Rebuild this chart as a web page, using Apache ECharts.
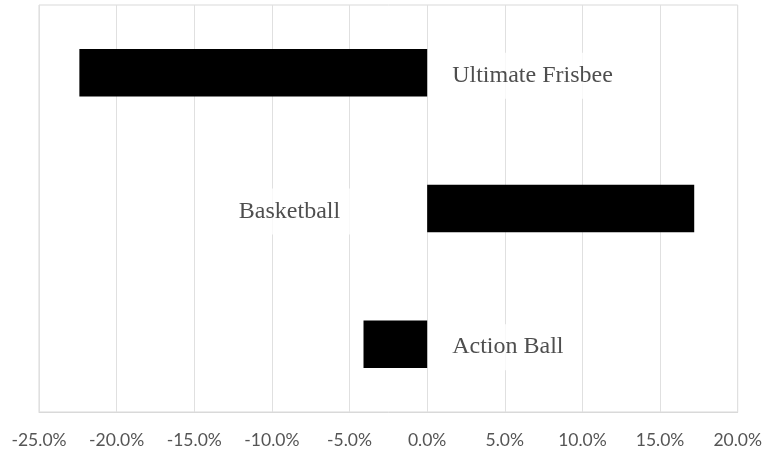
<!DOCTYPE html>
<html>
<head>
<meta charset="utf-8">
<script src="https://cdn.jsdelivr.net/npm/echarts@6/dist/echarts.min.js"></script>
<style>
  html, body { margin: 0; padding: 0; background: #fff; }
  #chart { width: 765px; height: 451px; }
</style>
</head>
<body>
<div id="chart"></div>
<script>
// Sports and their percentage change
const categories = ['Ultimate Frisbee', 'Basketball', 'Action Ball'];
const changes = [-22.4, 17.2, -4.1];
// Axis range (percent)
const axisMin = -25;
const axisMax = 20;
const axisStep = 5;

const chart = echarts.init(document.getElementById('chart'));

// Name labels sit on the opposite side of zero from each bar
const labelPoints = categories.map((name, i) => {
  const positive = changes[i] >= 0;
  return {
    value: [0, name],
    label: {
      position: positive ? 'left' : 'right',
      distance: positive ? 75 : 13
    }
  };
});

chart.setOption({
  animation: false,
  backgroundColor: '#ffffff',
  grid: {
    left: 39,
    right: 27,
    top: 5,
    bottom: 39,
    show: true,
    borderColor: '#d9d9d9',
    borderWidth: 1
  },
  xAxis: {
    type: 'value',
    min: axisMin,
    max: axisMax,
    interval: axisStep,
    axisLine: { show: true, lineStyle: { color: '#d9d9d9', width: 1 } },
    axisTick: { show: false },
    splitLine: { show: true, lineStyle: { color: '#e0e0e0', width: 1 } },
    axisLabel: {
      margin: 19,
      color: '#555555',
      fontFamily: 'Lato',
      fontSize: 17.5,
      formatter: v => v.toFixed(1) + '%'
    }
  },
  yAxis: {
    type: 'category',
    data: categories,
    inverse: true,
    axisLine: { show: false },
    axisTick: { show: false },
    axisLabel: { show: false },
    splitLine: { show: false }
  },
  series: [
    {
      type: 'bar',
      data: changes,
      barWidth: '35%',
      itemStyle: { color: '#000000' },
      z: 3
    },
    {
      type: 'scatter',
      data: labelPoints,
      symbolSize: 0,
      silent: true,
      z: 2,
      label: {
        show: true,
        formatter: p => p.value[1],
        fontFamily: 'Liberation Serif',
        fontSize: 24,
        color: '#222222',
        backgroundColor: '#ffffff',
        padding: [11, 12, 11, 12],
        offset: [0, 3]
      }
    }
  ]
});
</script>
</body>
</html>
